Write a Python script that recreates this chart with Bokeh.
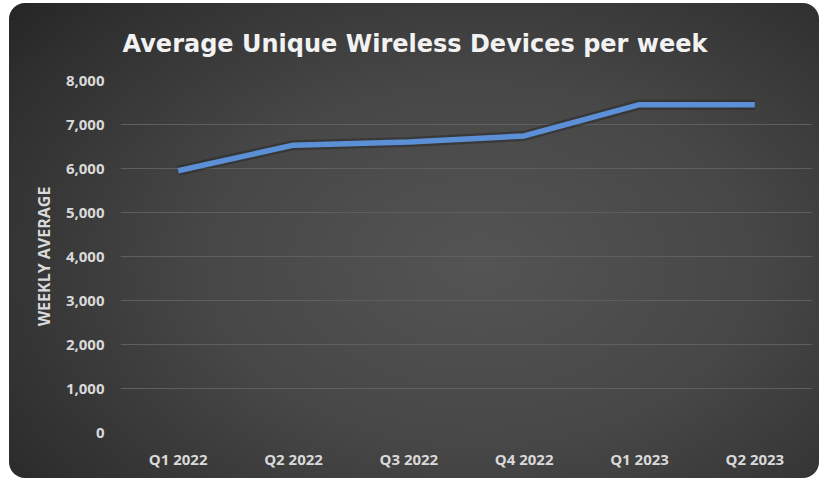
from bokeh.plotting import figure
from bokeh.models import ColumnDataSource, NumeralTickFormatter, FixedTicker
from bokeh.embed import file_html
from bokeh.resources import INLINE

quarters = ["Q1 2022", "Q2 2022", "Q3 2022", "Q4 2022", "Q1 2023", "Q2 2023"]
weekly_average = [5950, 6530, 6600, 6740, 7450, 7450]
y_ticks = [0, 1000, 2000, 3000, 4000, 5000, 6000, 7000, 8000]

title_text = "Average Unique Wireless Devices per week"
y_label = "WEEKLY AVERAGE"

src = ColumnDataSource(dict(q=quarters, v=weekly_average))

p = figure(
    x_range=quarters, y_range=(0, 8000),
    width=810, height=475,
    output_backend="svg", toolbar_location=None,
    min_border_left=111, min_border_right=7,
    min_border_top=77, min_border_bottom=46,
)
p.x_range.range_padding = 0

p.styles = {
    "margin-top": "3px",
    "margin-left": "9px",
    "border-radius": "16px",
    "background": "radial-gradient(ellipse 75% 85% at 58% 55%, #545454 0%, #474747 45%, #303030 85%, #262626 100%)",
}
p.border_fill_alpha = 0
p.background_fill_alpha = 0
p.outline_line_color = None

# title
p.title.text = title_text
p.title.align = "left"
p.title.offset = 2
p.title.text_font = "DejaVu Sans"
p.title.text_font_style = "bold"
p.title.text_font_size = "24px"
p.title.text_color = "#f2f2f2"
p.title.standoff = 45

# grid
p.xgrid.grid_line_color = None
p.ygrid.grid_line_color = "#5f5f5f"
p.ygrid.grid_line_width = 1

# axes
for ax in (p.xaxis, p.yaxis):
    ax.axis_line_color = None
    ax.major_tick_line_color = None
    ax.minor_tick_line_color = None
    ax.major_label_text_font = "Open Sans"
    ax.major_label_text_font_style = "bold"
    ax.major_label_text_font_size = "15px"
    ax.major_label_text_color = "#d9d9d9"

p.yaxis.ticker = FixedTicker(ticks=y_ticks)
p.yaxis.formatter = NumeralTickFormatter(format="0,0")
p.yaxis.major_label_standoff = 10
p.xaxis.major_label_standoff = 10

p.yaxis.axis_label = y_label
p.yaxis.axis_label_text_font = "Open Sans"
p.yaxis.axis_label_text_font_style = "bold"
p.yaxis.axis_label_text_font_size = "16px"
p.yaxis.axis_label_text_color = "#d9d9d9"
p.yaxis.axis_label_standoff = 8

# line with soft shadow
p.line("q", "v", source=src, line_width=10, line_color="#1a1a1a", line_alpha=0.35, line_join="round")
p.line("q", "v", source=src, line_width=5.5, line_color="#5b8fd6", line_join="round")

open("out.html", "w").write(file_html(p, INLINE))
